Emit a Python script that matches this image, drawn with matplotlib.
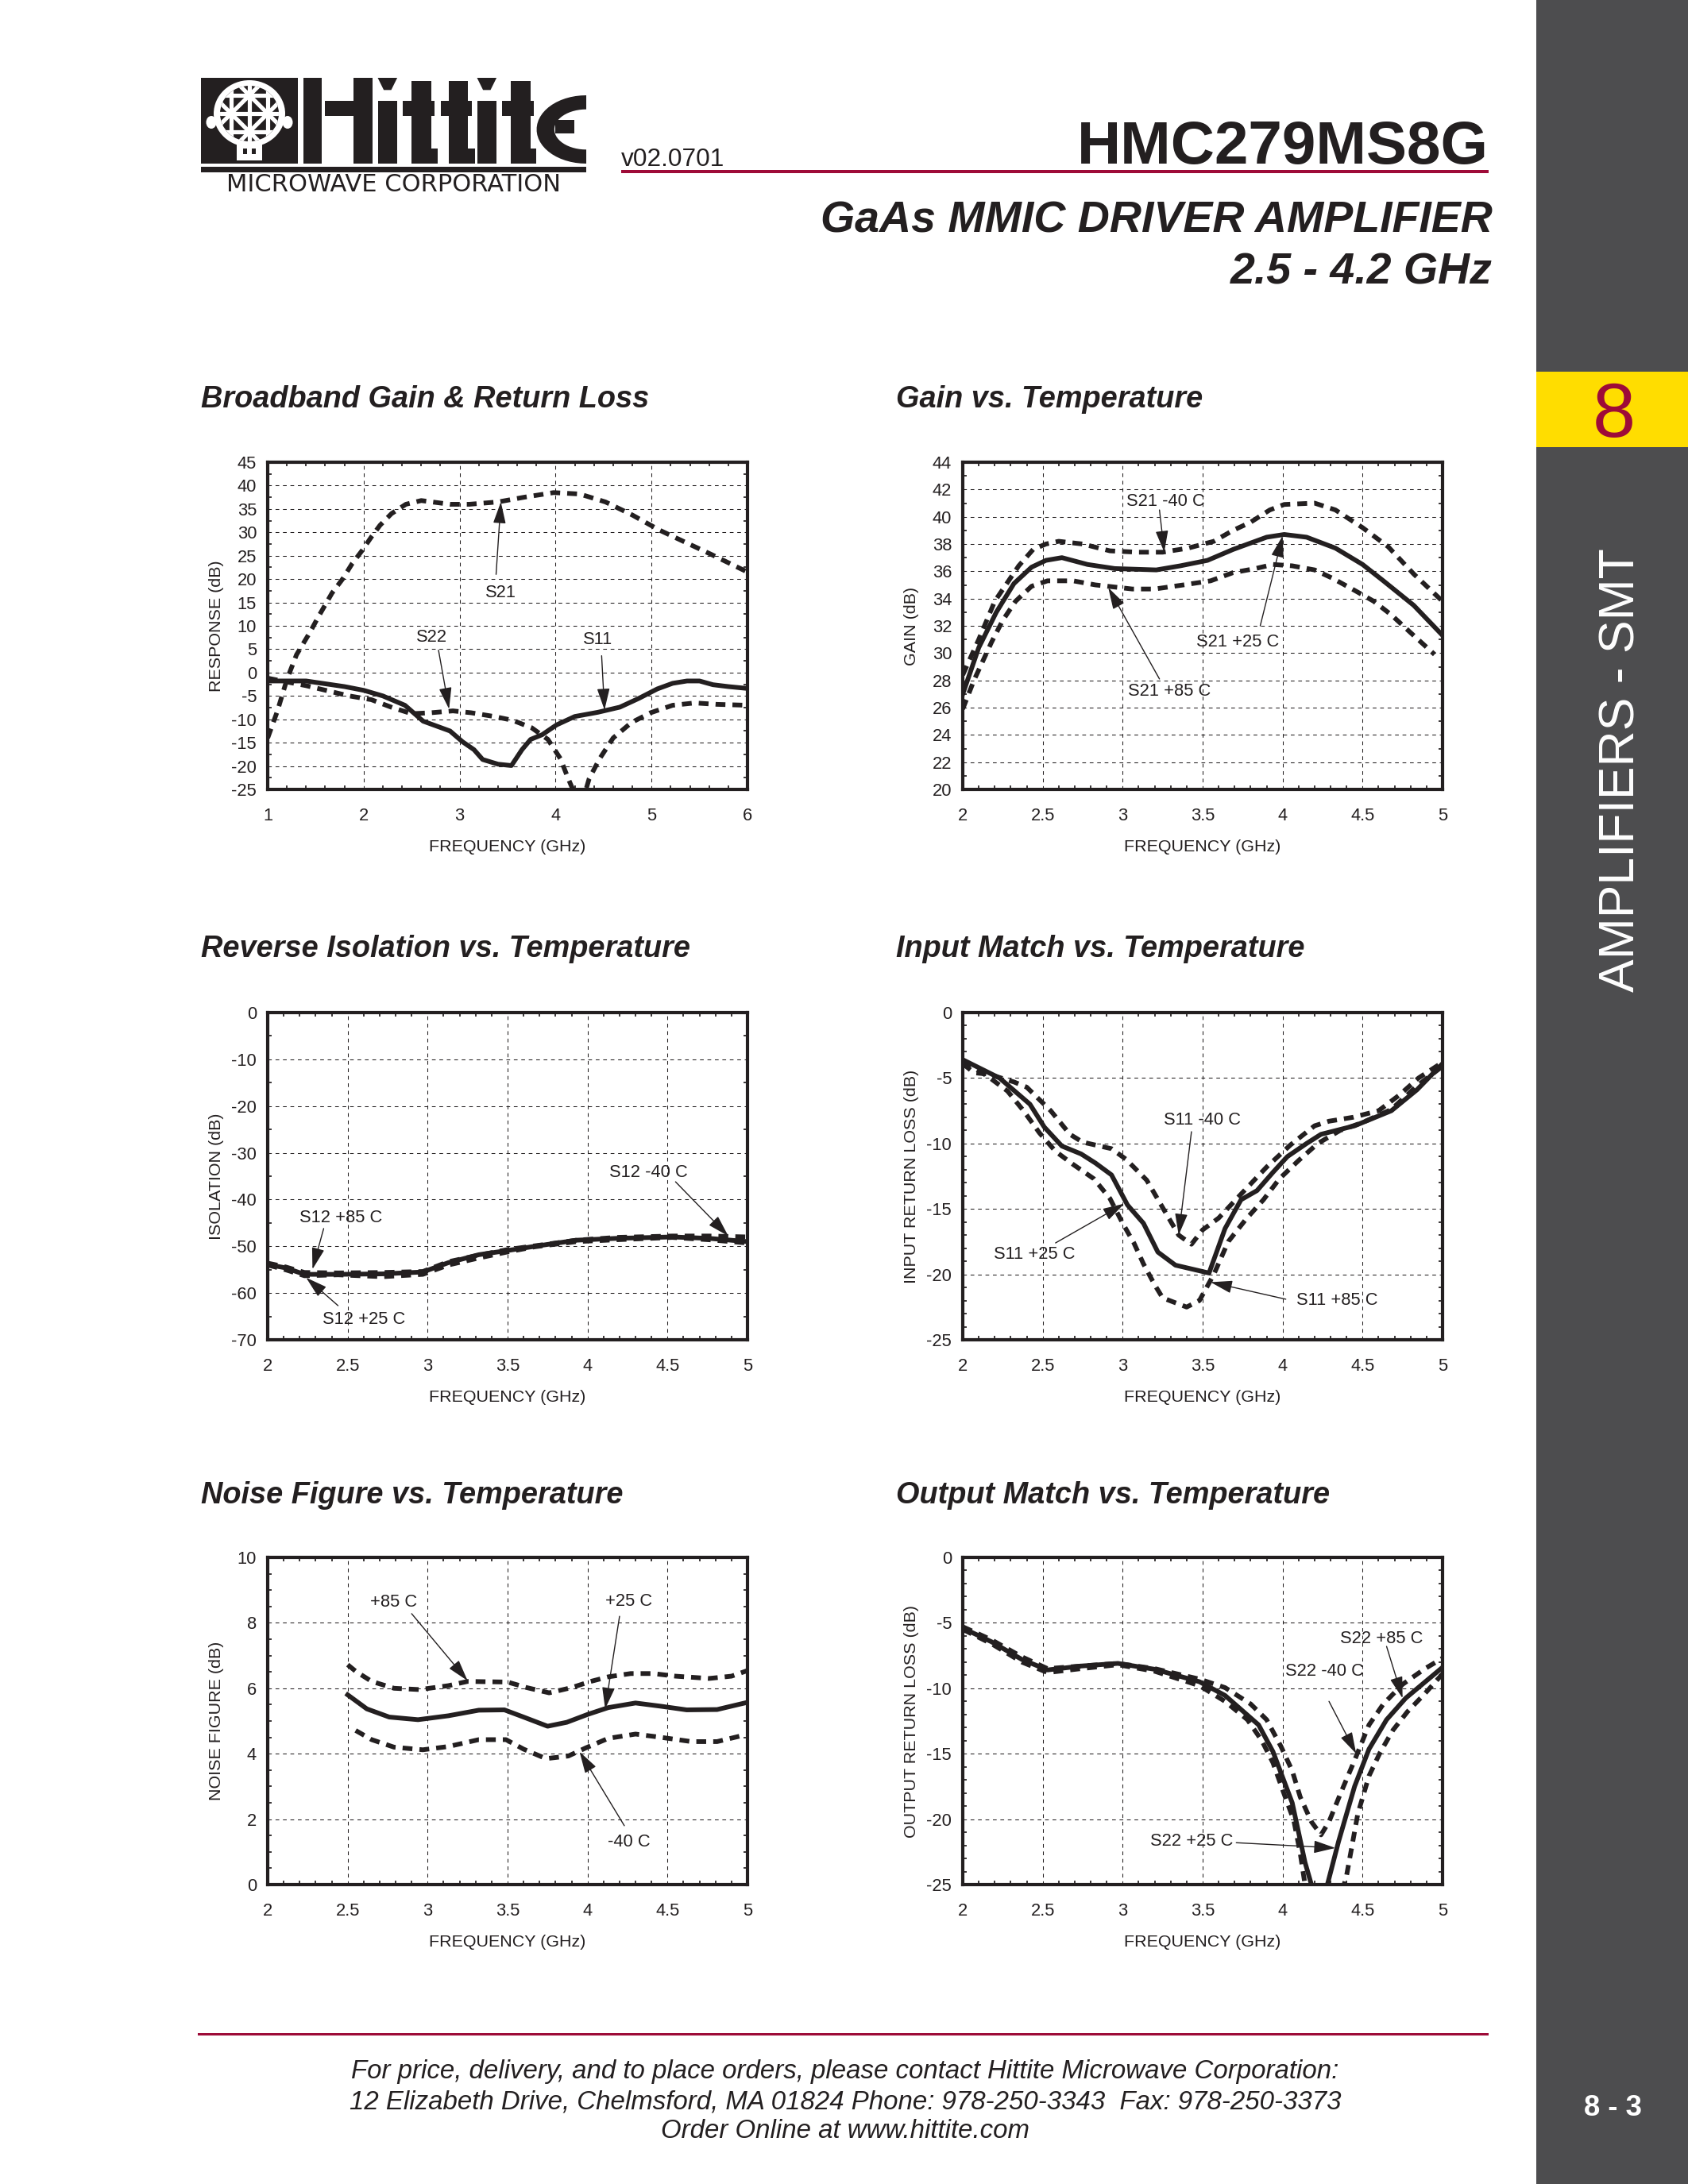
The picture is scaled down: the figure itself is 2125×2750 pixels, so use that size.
#!/usr/bin/python
import numpy as np
import matplotlib
matplotlib.use('agg')
import matplotlib.pyplot as plt
from matplotlib.patches import Rectangle, Ellipse, Polygon

plt.rcParams['font.family'] = ['Liberation Sans', 'DejaVu Sans']

DARK = '#231f20'
RED = '#9e0b38'
GRAY = '#4d4d4f'
YELLOW = '#ffdd00'

# broadband gain & return loss
bb_s21_x = [1, 1.1, 1.2, 1.3, 1.44, 1.53, 1.67, 1.78, 1.88, 1.98, 2.08, 2.17, 2.29, 2.44, 2.6, 2.9, 3.1, 3.4, 3.67, 3.98, 4.25, 4.52, 4.8, 5.08, 5.37, 5.62, 5.95, 6]
bb_s21_y = [-14, -8.3, -1.5, 3.8, 8.6, 12, 17, 20, 23.3, 26, 29, 31.5, 34, 36, 36.8, 36, 36, 36.5, 37.5, 38.5, 38.2, 36.5, 33.7, 30.5, 27.7, 25.3, 22, 21.5]
bb_s11_x = [1, 1.4, 1.8, 2, 2.2, 2.43, 2.62, 2.9, 3.03, 3.15, 3.24, 3.4, 3.54, 3.65, 3.74, 3.86, 4.01, 4.2, 4.44, 4.67, 4.87, 5.06, 5.22, 5.37, 5.5, 5.64, 5.8, 6]
bb_s11_y = [-1.8, -1.8, -3, -3.8, -5, -7, -10.4, -12.5, -14.8, -16.5, -18.6, -19.6, -19.9, -16.5, -14.3, -13.3, -11.2, -9.4, -8.5, -7.4, -5.5, -3.5, -2.3, -1.8, -1.8, -2.6, -3, -3.4]
bb_s22_x = [1, 1.4, 1.85, 2.08, 2.3, 2.5, 2.7, 2.93, 3.12, 3.36, 3.55, 3.75, 3.92, 4.05, 4.13, 4.18, 4.26, 4.35, 4.46, 4.6, 4.79, 4.99, 5.22, 5.45, 5.68, 6]
bb_s22_y = [-1.2, -2.8, -5, -5.8, -7.5, -8.8, -8.6, -8.2, -8.6, -9.4, -10.2, -11.8, -14.3, -18.4, -22.6, -25, -29, -22.7, -18.4, -14, -10.7, -8.6, -7, -6.5, -6.8, -7]

# gain vs temperature
gain_25_x = [2, 2.1, 2.21, 2.32, 2.43, 2.52, 2.62, 2.78, 2.95, 3.21, 3.36, 3.53, 3.69, 3.9, 4.01, 4.15, 4.33, 4.5, 4.63, 4.82, 5]
gain_25_y = [27, 30.4, 33, 35.1, 36.3, 36.8, 37, 36.5, 36.2, 36.1, 36.4, 36.8, 37.6, 38.5, 38.7, 38.5, 37.7, 36.5, 35.3, 33.5, 31.3]
gain_m40_x = [2, 2.1, 2.2, 2.35, 2.44, 2.52, 2.6, 2.75, 2.92, 3.09, 3.25, 3.41, 3.57, 3.69, 3.8, 3.92, 4.01, 4.2, 4.33, 4.5, 4.66, 4.82, 5]
gain_m40_y = [28.4, 31, 33.8, 36.4, 37.6, 38, 38.2, 38, 37.5, 37.4, 37.4, 37.7, 38.2, 39, 39.6, 40.5, 40.9, 41, 40.5, 39.2, 37.8, 35.8, 33.8]
gain_85_x = [2, 2.07, 2.18, 2.25, 2.33, 2.43, 2.53, 2.69, 2.83, 3.06, 3.2, 3.38, 3.55, 3.69, 3.83, 3.94, 4.06, 4.2, 4.31, 4.45, 4.57, 4.68, 4.8, 4.95]
gain_85_y = [25.9, 28, 30.8, 32.4, 33.8, 34.9, 35.3, 35.3, 35, 34.7, 34.7, 35, 35.3, 35.9, 36.2, 36.5, 36.4, 36.1, 35.5, 34.6, 33.8, 32.8, 31.5, 29.9]

# reverse isolation
iso_x = [2, 2.11, 2.23, 2.44, 2.72, 2.97, 3.13, 3.32, 3.5, 3.67, 3.93, 4.18, 4.53, 4.76, 5]
iso_25 = [-53.9, -54.6, -56, -56, -55.9, -55.5, -53.5, -51.8, -50.9, -50, -48.7, -48.3, -48, -48.3, -49]
iso_m40 = [-53.6, -54.4, -55.6, -55.7, -55.6, -55.4, -53.3, -51.9, -50.7, -49.9, -48.7, -48.1, -47.8, -47.8, -48]
iso_85 = [-54, -55, -56.3, -56.1, -56.5, -56, -54, -52.5, -51.2, -50.1, -49, -48.6, -48.1, -48.6, -49.3]

# input match
s11_25_x = [2, 2.23, 2.42, 2.51, 2.62, 2.74, 2.83, 2.93, 3.03, 3.13, 3.22, 3.33, 3.54, 3.64, 3.74, 3.84, 3.94, 4.03, 4.15, 4.24, 4.45, 4.68, 4.84, 5]
s11_25_y = [-3.6, -5, -7, -8.75, -10.2, -10.8, -11.5, -12.4, -14.7, -16.1, -18.3, -19.3, -19.9, -16.5, -14.3, -13.6, -12.2, -11, -10, -9.3, -8.65, -7.5, -5.9, -3.9]
s11_m40_x = [2, 2.07, 2.16, 2.32, 2.4, 2.55, 2.67, 2.75, 2.93, 3.02, 3.15, 3.25, 3.35, 3.43, 3.5, 3.6, 3.73, 3.9, 4.05, 4.2, 4.29, 4.44, 4.6, 4.73, 4.85, 5]
s11_m40_y = [-3.9, -4.6, -4.7, -5.3, -5.7, -7.5, -9.3, -9.9, -10.4, -11.2, -12.8, -14.9, -17, -17.7, -16.6, -15.7, -14, -11.8, -10.1, -8.65, -8.3, -8, -7.5, -6.3, -5, -3.8]
s11_85_x = [2, 2.16, 2.28, 2.38, 2.48, 2.58, 2.69, 2.82, 2.92, 3, 3.07, 3.13, 3.2, 3.25, 3.4, 3.48, 3.57, 3.66, 3.77, 3.88, 3.98, 4.1, 4.22, 4.36, 4.5, 4.68, 4.84, 5]
s11_85_y = [-3.7, -4.9, -6, -7.5, -9.2, -10.6, -11.6, -12.7, -14.2, -16.1, -17.6, -19.2, -20.8, -21.8, -22.5, -22, -20, -17.5, -15.8, -14.3, -12.7, -11.3, -10, -9, -8.4, -7.4, -5.6, -4.1]

# noise figure
nf_25_x = [2.5, 2.62, 2.76, 2.94, 3.13, 3.32, 3.48, 3.6, 3.75, 3.87, 4, 4.13, 4.3, 4.46, 4.62, 4.81, 5]
nf_25_y = [5.8, 5.37, 5.12, 5.04, 5.16, 5.33, 5.34, 5.12, 4.84, 4.96, 5.2, 5.41, 5.55, 5.45, 5.34, 5.35, 5.57]
nf_85_x = [2.5, 2.55, 2.65, 2.79, 2.95, 3.13, 3.25, 3.5, 3.62, 3.76, 3.9, 4.02, 4.13, 4.27, 4.41, 4.55, 4.76, 4.9, 5]
nf_85_y = [6.72, 6.52, 6.21, 6, 5.96, 6.08, 6.21, 6.19, 6.02, 5.86, 6.02, 6.21, 6.35, 6.45, 6.45, 6.37, 6.3, 6.37, 6.54]
nf_m40_x = [2.55, 2.65, 2.79, 2.97, 3.13, 3.32, 3.49, 3.6, 3.74, 3.88, 3.99, 4.13, 4.3, 4.46, 4.65, 4.81, 4.98]
nf_m40_y = [4.71, 4.43, 4.2, 4.12, 4.22, 4.43, 4.43, 4.14, 3.85, 3.93, 4.18, 4.47, 4.6, 4.5, 4.37, 4.37, 4.57]

# output match
s22_25_x = [2, 2.18, 2.37, 2.53, 2.74, 2.97, 3.2, 3.48, 3.64, 3.85, 3.94, 4.06, 4.14, 4.18, 4.23, 4.28, 4.35, 4.45, 4.54, 4.65, 4.77, 5]
s22_25_y = [-5.4, -6.45, -7.8, -8.6, -8.3, -8.1, -8.55, -9.5, -10.55, -12.8, -14.85, -18.75, -23.3, -25, -28, -25, -21.7, -17.5, -14.65, -12.4, -10.75, -8.4]
s22_m40_x = [2, 2.18, 2.37, 2.53, 2.74, 2.97, 3.2, 3.48, 3.64, 3.8, 3.9, 3.99, 4.06, 4.11, 4.18, 4.24, 4.29, 4.36, 4.45, 4.54, 4.63, 4.75, 4.89, 5]
s22_m40_y = [-5.3, -6.3, -7.6, -8.5, -8.3, -8.1, -8.5, -9.3, -9.95, -11.2, -12.4, -14.45, -16.3, -18.3, -20.2, -21.2, -20.2, -18.1, -15.5, -12.8, -11.2, -9.7, -8.5, -7.7]
s22_85_x = [2, 2.18, 2.37, 2.53, 2.74, 2.97, 3.2, 3.48, 3.64, 3.78, 3.87, 3.94, 4.01, 4.07, 4.11, 4.14, 4.25, 4.4, 4.43, 4.47, 4.54, 4.61, 4.69, 4.78, 4.89, 5]
s22_85_y = [-5.5, -6.6, -8, -8.8, -8.5, -8.2, -8.7, -9.8, -11, -12.4, -14, -15.7, -18.1, -20.1, -22.6, -25, -31, -24.3, -22.3, -19.6, -16.7, -14.9, -13.2, -11.8, -10.4, -8.9]

fig = plt.figure(figsize=(8.5, 11), dpi=250)

# page layer, in pixels of the sheet
page = fig.add_axes([0, 0, 1, 1], zorder=0)
page.set_xlim(0, 2125)
page.set_ylim(2750, 0)
page.axis('off')


def box(x0, y0, x1, y1, color=DARK, z=2):
    page.add_patch(Rectangle((x0, y0), x1 - x0, y1 - y0, fc=color, ec='none', zorder=z))


def logo():
    box(253, 98, 375, 206)
    # dome
    page.add_patch(Ellipse((314, 143), 90, 84, fc='white', ec='none', zorder=3))
    page.add_patch(Rectangle((298, 180), 32, 22, fc='white', ec='none', zorder=3))
    page.add_patch(Rectangle((306, 187), 5, 7, fc=DARK, ec='none', zorder=4))
    page.add_patch(Rectangle((317, 187), 5, 7, fc=DARK, ec='none', zorder=4))
    page.add_patch(Ellipse((266, 154), 13, 16, fc='white', ec='none', zorder=3))
    page.add_patch(Ellipse((362, 154), 13, 16, fc='white', ec='none', zorder=3))
    inner = Ellipse((314, 143), 74, 70, fc=DARK, ec='none', zorder=4)
    page.add_patch(inner)
    cell = 23
    for i in np.arange(-3, 4):
        for xs, ys in (([314 + i * cell, 314 + i * cell], [100, 190]),
                       ([270, 358], [143 + i * cell, 143 + i * cell]),
                       ([270, 358], [143 + (i + 0.5) * 2 * cell - 44, 143 + (i + 0.5) * 2 * cell + 44]),
                       ([270, 358], [143 + (i + 0.5) * 2 * cell + 44, 143 + (i + 0.5) * 2 * cell - 44])):
            ln, = page.plot(xs, ys, color='white', lw=1.5, zorder=5)
            ln.set_clip_path(inner)
    # letters
    X = lambda z: 230 + z / 2.24
    Y = lambda z: 80 + z / 3
    bars = [(340, 54, 392, 378), (402, 140, 482, 197), (482, 54, 535, 378),
            (550, 140, 605, 378),
            (645, 65, 700, 378), (620, 140, 710, 197), (700, 320, 720, 378),
            (750, 65, 805, 378), (727, 140, 815, 197), (805, 320, 825, 378),
            (830, 140, 885, 378),
            (925, 65, 980, 378), (900, 140, 990, 197), (980, 320, 997, 378),
            (1050, 213, 1105, 265)]
    for x0, y0, x1, y1 in bars:
        box(X(x0), Y(y0), X(x1), Y(y1))
    for zx in (550, 830):
        page.add_patch(Polygon([(X(zx), Y(54)), (X(zx + 55), Y(54)), (X(zx + 38), Y(100)), (X(zx + 17), Y(100))],
                               fc=DARK, ec='none', zorder=2))
    # the round E
    t = np.linspace(np.pi / 2, 3 * np.pi / 2, 30)
    outer = np.c_[X(1138) + (X(1138) - X(998)) * np.cos(t), Y(249) + (Y(378) - Y(249)) * np.sin(t)]
    inner_e = np.c_[X(1138) + (X(1138) - X(1048)) * np.cos(t[::-1]), Y(249) + (Y(325) - Y(249)) * np.sin(t[::-1])]
    page.add_patch(Polygon(np.r_[outer, inner_e], fc=DARK, ec='none', zorder=2))
    box(253, 210, 738, 217)
    page.text(495.5, 232, 'MICROWAVE CORPORATION', ha='center', va='center', fontsize=8.8, color=DARK,
              family=['DejaVu Sans'])


logo()
page.text(782, 209, 'v02.0701', ha='left', va='baseline', fontsize=9.1, color=DARK)
box(782, 214, 1874, 218, RED)
page.text(1874, 206, 'HMC279MS8G', ha='right', va='baseline', fontsize=22, fontweight='bold', color=DARK)
page.text(1879, 278, 'GaAs MMIC DRIVER AMPLIFIER', ha='right', va='center', fontsize=16,
          fontweight='bold', style='italic', color=DARK)
page.text(1879, 343, '2.5 - 4.2 GHz', ha='right', va='center', fontsize=16,
          fontweight='bold', style='italic', color=DARK)

# side band
box(1934, 0, 2125, 2750, GRAY)
box(1934, 468, 2125, 563, YELLOW, z=3)
page.text(2032, 525, '8', ha='center', va='center', fontsize=28, color=RED, zorder=4)
page.text(2041, 970, 'AMPLIFIERS - SMT', ha='center', va='center', rotation=90, fontsize=18, color='white', zorder=4)
page.text(2030, 2654, '8 - 3', ha='center', va='center', fontsize=10.5, fontweight='bold', color='white', zorder=4)

# footer
box(249, 2560, 1874, 2563, RED)
page.text(1064, 2609, 'For price, delivery, and to place orders, please contact Hittite Microwave Corporation:',
          ha='center', va='center', fontsize=9.5, style='italic', color=DARK)
page.text(1064, 2647, '12 Elizabeth Drive, Chelmsford, MA 01824 Phone: 978-250-3343  Fax: 978-250-3373',
          ha='center', va='center', fontsize=9.5, style='italic', color=DARK)
page.text(1064, 2684, 'Order Online at www.hittite.com', ha='center', va='center', fontsize=9.5,
          style='italic', color=DARK)

TITLE_KW = dict(ha='left', va='center', fontsize=10.9, fontweight='bold', style='italic', color=DARK)
page.text(253, 503, 'Broadband Gain & Return Loss', **TITLE_KW)
page.text(1128, 503, 'Gain vs. Temperature', **TITLE_KW)
page.text(253, 1195, 'Reverse Isolation vs. Temperature', **TITLE_KW)
page.text(1128, 1195, 'Input Match vs. Temperature', **TITLE_KW)
page.text(253, 1883, 'Noise Figure vs. Temperature', **TITLE_KW)
page.text(1128, 1883, 'Output Match vs. Temperature', **TITLE_KW)


def panel(left, top, xlim, ylim, xticks, xminor, yticks, yminor, ylabel, xfmt=None):
    w, h = 604, 412
    ax = fig.add_axes([left / 2125, 1 - (top + h) / 2750, w / 2125, h / 2750], zorder=2)
    ax.patch.set_alpha(0)
    ax.set_xlim(xlim)
    ax.set_ylim(ylim)
    ax.set_xticks(xticks)
    ax.set_yticks(yticks)
    ax.set_xticklabels([('%g' % t) for t in xticks])
    ax.set_yticklabels([('%g' % t) for t in yticks])
    ax.set_xticks(xminor, minor=True)
    ax.set_yticks(yminor, minor=True)
    ax.tick_params(which='major', length=0, labelsize=6.3, colors=DARK)
    ax.tick_params(axis='x', which='major', pad=6.5)
    ax.tick_params(axis='y', which='major', pad=4)
    ax.tick_params(which='minor', direction='in', length=1.5, width=0.5, top=True, right=True, color=DARK)
    ax.grid(True, which='major', color=DARK, lw=0.3, linestyle=(0, (4.5, 4.5)))
    ax.set_axisbelow(True)
    for s in ax.spines.values():
        s.set_linewidth(1.2)
        s.set_color(DARK)
    ax.set_xlabel('FREQUENCY (GHz)', fontsize=6.2, color=DARK)
    ax.xaxis.set_label_coords(0.5, -0.175)
    ax.xaxis.label.set_va('center')
    ax.set_ylabel(ylabel, fontsize=6.2, color=DARK)
    ax.yaxis.set_label_coords(-0.107, 0.5)
    ax.yaxis.label.set_va('center')
    return ax


def solid(ax, x, y):
    ax.plot(x, y, color=DARK, lw=1.7, solid_joinstyle='round', zorder=3)


def dashed(ax, x, y):
    ax.plot(x, y, color=DARK, lw=1.7, linestyle=(0, (2.1, 1.5)), zorder=3)


def note(ax, label, lx, ly, ax0, ay0, ax1, ay1):
    ax.text(lx, ly, label, ha='center', va='center', fontsize=6.3, color=DARK, zorder=5)
    ax.annotate('', xy=(ax1, ay1), xytext=(ax0, ay0), zorder=5,
                arrowprops=dict(arrowstyle='-|>,head_length=0.75,head_width=0.22', lw=0.4, color=DARK,
                                fc=DARK, shrinkA=0, shrinkB=0, mutation_scale=9))


LEFT_COL, RIGHT_COL = 337, 1212
ROW1, ROW2, ROW3 = 582, 1275, 1961

ax1 = panel(LEFT_COL, ROW1, (1, 6), (-25, 45), np.arange(1, 7), np.arange(1, 6.01, 0.2),
            np.arange(-25, 46, 5), np.arange(-25, 45.1, 2.5), 'RESPONSE (dB)')
dashed(ax1, bb_s21_x, bb_s21_y)
solid(ax1, bb_s11_x, bb_s11_y)
dashed(ax1, bb_s22_x, bb_s22_y)
note(ax1, 'S21', 3.43, 17.1, 3.38, 21, 3.43, 36.5)
note(ax1, 'S22', 2.71, 7.5, 2.78, 4.8, 2.89, -7.8)
note(ax1, 'S11', 4.44, 7, 4.48, 3.6, 4.51, -8)

ax2 = panel(RIGHT_COL, ROW1, (2, 5), (20, 44), np.arange(2, 5.01, 0.5), np.arange(2, 5.01, 0.1),
            np.arange(20, 45, 2), np.arange(20, 44.1, 1), 'GAIN (dB)')
dashed(ax2, gain_m40_x, gain_m40_y)
solid(ax2, gain_25_x, gain_25_y)
dashed(ax2, gain_85_x, gain_85_y)
note(ax2, 'S21 -40 C', 3.27, 41.1, 3.23, 40.5, 3.26, 37.4)
note(ax2, 'S21 +25 C', 3.72, 30.8, 3.86, 32, 4, 38.6)
note(ax2, 'S21 +85 C', 3.29, 27.2, 3.23, 28.1, 2.91, 34.8)

ax3 = panel(LEFT_COL, ROW2, (2, 5), (-70, 0), np.arange(2, 5.01, 0.5), np.arange(2, 5.01, 0.1),
            np.arange(-70, 1, 10), np.arange(-70, 0.1, 5), 'ISOLATION (dB)')
dashed(ax3, iso_x, iso_m40)
dashed(ax3, iso_x, iso_85)
solid(ax3, iso_x, iso_25)
note(ax3, 'S12 -40 C', 4.38, -34.3, 4.55, -36.2, 4.88, -47.8)
note(ax3, 'S12 +85 C', 2.46, -43.9, 2.35, -46.2, 2.28, -54.9)
note(ax3, 'S12 +25 C', 2.6, -65.7, 2.44, -62.7, 2.24, -56.7)

ax4 = panel(RIGHT_COL, ROW2, (2, 5), (-25, 0), np.arange(2, 5.01, 0.5), np.arange(2, 5.01, 0.1),
            np.arange(-25, 1, 5), np.arange(-25, 0.1, 1), 'INPUT RETURN LOSS (dB)')
dashed(ax4, s11_m40_x, s11_m40_y)
dashed(ax4, s11_85_x, s11_85_y)
solid(ax4, s11_25_x, s11_25_y)
note(ax4, 'S11 -40 C', 3.5, -8.2, 3.43, -9.1, 3.35, -17)
note(ax4, 'S11 +25 C', 2.45, -18.5, 2.58, -17.6, 3.01, -14.6)
note(ax4, 'S11 +85 C', 4.34, -22, 4.02, -21.9, 3.55, -20.6)

ax5 = panel(LEFT_COL, ROW3, (2, 5), (0, 10), np.arange(2, 5.01, 0.5), np.arange(2, 5.01, 0.1),
            np.arange(0, 11, 2), np.arange(0, 10.1, 0.5), 'NOISE FIGURE (dB)')
dashed(ax5, nf_85_x, nf_85_y)
solid(ax5, nf_25_x, nf_25_y)
dashed(ax5, nf_m40_x, nf_m40_y)
note(ax5, '+85 C', 2.79, 8.63, 2.9, 8.28, 3.25, 6.23)
note(ax5, '+25 C', 4.26, 8.65, 4.2, 8.2, 4.11, 5.37)
note(ax5, '-40 C', 4.26, 1.31, 4.23, 1.8, 3.95, 4.06)

ax6 = panel(RIGHT_COL, ROW3, (2, 5), (-25, 0), np.arange(2, 5.01, 0.5), np.arange(2, 5.01, 0.1),
            np.arange(-25, 1, 5), np.arange(-25, 0.1, 1), 'OUTPUT RETURN LOSS (dB)')
dashed(ax6, s22_m40_x, s22_m40_y)
dashed(ax6, s22_85_x, s22_85_y)
solid(ax6, s22_25_x, s22_25_y)
note(ax6, 'S22 +85 C', 4.62, -6.2, 4.65, -6.8, 4.75, -10.76)
note(ax6, 'S22 -40 C', 4.26, -8.7, 4.29, -11, 4.46, -15)
note(ax6, 'S22 +25 C', 3.43, -21.7, 3.71, -21.8, 4.33, -22.2)

fig.savefig('out.png', dpi=250)
